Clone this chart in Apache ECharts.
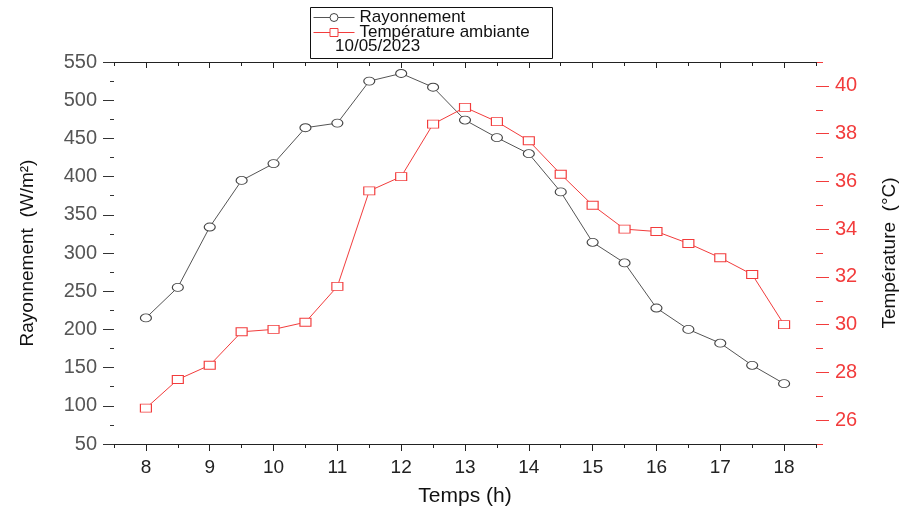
<!DOCTYPE html>
<html>
<head>
<meta charset="utf-8">
<script src="https://cdn.jsdelivr.net/npm/echarts@6/dist/echarts.min.js"></script>
<style>html,body{margin:0;padding:0;background:#fff}#c{width:906px;height:512px}</style>
</head>
<body>
<div id="c"></div>
<script>
var hours = [8, 8.5, 9, 9.5, 10, 10.5, 11, 11.5, 12, 12.5, 13, 13.5, 14, 14.5, 15, 15.5, 16, 16.5, 17, 17.5, 18];
var rayonnement = [215, 255, 334, 395, 417, 464, 470, 525, 535, 517, 474, 451, 430, 380, 314, 287, 228, 200, 182, 153, 129];
var temperature = [26.5, 27.7, 28.3, 29.7, 29.8, 30.1, 31.6, 35.6, 36.2, 38.4, 39.1, 38.5, 37.7, 36.3, 35.0, 34.0, 33.9, 33.4, 32.8, 32.1, 30.0];
var xMajor = [8, 9, 10, 11, 12, 13, 14, 15, 16, 17, 18];
var xMinor = [7.5, 8.5, 9.5, 10.5, 11.5, 12.5, 13.5, 14.5, 15.5, 16.5, 17.5, 18.5];
var tMajor = [26, 28, 30, 32, 34, 36, 38, 40];
var tMinor = [25, 27, 29, 31, 33, 35, 37, 39, 41];
var seriesNames = ['Rayonnement', 'Température ambiante'];
var dateText = '10/05/2023';

var RED = '#f23c3c';
var FONT = '"Liberation Sans", Arial, sans-serif';

function pairs(xs, ys) { return xs.map(function (x, i) { return [x, ys[i]]; }); }

function legendFor(name, top) {
  return {
    left: 313, top: top, orient: 'vertical', padding: 0, itemGap: 0, itemWidth: 41, itemHeight: 10,
    textStyle: {fontFamily: FONT, fontSize: 17, color: '#111'},
    lineStyle: {width: 1},
    itemStyle: {borderWidth: 1},
    data: [name]
  };
}

var chart = echarts.init(document.getElementById('c'), null, {renderer: 'canvas'});
chart.setOption({
  animation: false,
  backgroundColor: '#fff',
  grid: {left: 114, right: 90, top: 62, bottom: 68, containLabel: false, outerBoundsMode: 'none'},
  legend: [legendFor(seriesNames[0], 9), legendFor(seriesNames[1], 24)],
  graphic: [
    {type: 'rect', left: 308, top: 5, shape: {width: 242, height: 51}, style: {fill: 'none', stroke: '#111', lineWidth: 1}, silent: true},
    {type: 'text', left: 335, top: 38, style: {text: dateText, font: '17px ' + FONT, fill: '#111'}}
  ],
  xAxis: [
    {type: 'value', position: 'bottom', min: 7.5, max: 18.5, interval: 0.5,
     axisLine: {show: true, lineStyle: {color: '#222', width: 1}},
     axisTick: {show: true, inside: false, length: 7, customValues: xMajor, lineStyle: {color: '#222'}},
     axisLabel: {customValues: xMajor, fontFamily: FONT, fontSize: 19, color: '#222', margin: 14},
     splitLine: {show: false},
     name: 'Temps (h)', nameLocation: 'middle', nameGap: 42,
     nameTextStyle: {fontFamily: FONT, fontSize: 21, color: '#111'}},
    {type: 'value', position: 'bottom', min: 7.5, max: 18.5, interval: 0.5,
     axisLine: {show: false}, axisLabel: {show: false}, splitLine: {show: false},
     axisTick: {show: true, inside: false, length: 4, customValues: xMinor, lineStyle: {color: '#222'}}},
    {type: 'value', position: 'top', min: 7.5, max: 18.5, interval: 0.5,
     axisLine: {show: true, lineStyle: {color: '#222', width: 1}},
     axisLabel: {show: false}, splitLine: {show: false},
     axisTick: {show: true, inside: true, length: 6, customValues: xMajor, lineStyle: {color: '#222'}}},
    {type: 'value', position: 'top', min: 7.5, max: 18.5, interval: 0.5,
     axisLine: {show: false}, axisLabel: {show: false}, splitLine: {show: false},
     axisTick: {show: true, inside: true, length: 4, customValues: xMinor, lineStyle: {color: '#222'}}}
  ],
  yAxis: [
    {type: 'value', position: 'left', min: 50, max: 550, interval: 50,
     axisLine: {show: false},
     axisTick: {show: true, inside: false, length: 11, lineStyle: {color: '#333'}},
     minorTick: {show: true, splitNumber: 2, length: 4, lineStyle: {color: '#333'}},
     axisLabel: {fontFamily: FONT, fontSize: 20, color: '#555', margin: 17},
     splitLine: {show: false}, minorSplitLine: {show: false},
     name: 'Rayonnement  (W/m²)', nameLocation: 'middle', nameGap: 77, nameRotate: 90,
     nameTextStyle: {fontFamily: FONT, fontSize: 19, color: '#111'}},
    {type: 'value', position: 'right', min: 25, max: 41, interval: 1,
     axisLine: {show: false},
     axisTick: {show: true, inside: false, length: 13, customValues: tMajor, lineStyle: {color: RED}},
     axisLabel: {customValues: tMajor, fontFamily: FONT, fontSize: 20, color: RED, margin: 19},
     splitLine: {show: false},
     name: 'Température  (°C)', nameLocation: 'middle', nameGap: 64, nameRotate: 90,
     nameTextStyle: {fontFamily: FONT, fontSize: 19, color: '#111'}},
    {type: 'value', position: 'right', min: 25, max: 41, interval: 1,
     axisLine: {show: false}, axisLabel: {show: false}, splitLine: {show: false},
     axisTick: {show: true, inside: false, length: 7, customValues: tMinor, lineStyle: {color: RED}}}
  ],
  series: [
    {name: seriesNames[0], type: 'line', xAxisIndex: 0, yAxisIndex: 0,
     data: pairs(hours, rayonnement),
     symbol: 'circle', symbolSize: [11, 8],
     lineStyle: {color: '#555', width: 1},
     itemStyle: {color: '#fff', borderColor: '#444', borderWidth: 1}},
    {name: seriesNames[1], type: 'line', xAxisIndex: 0, yAxisIndex: 1,
     data: pairs(hours, temperature),
     symbol: 'rect', symbolSize: [11, 8],
     lineStyle: {color: RED, width: 1},
     itemStyle: {color: '#fff', borderColor: RED, borderWidth: 1}}
  ]
});
</script>
</body>
</html>
